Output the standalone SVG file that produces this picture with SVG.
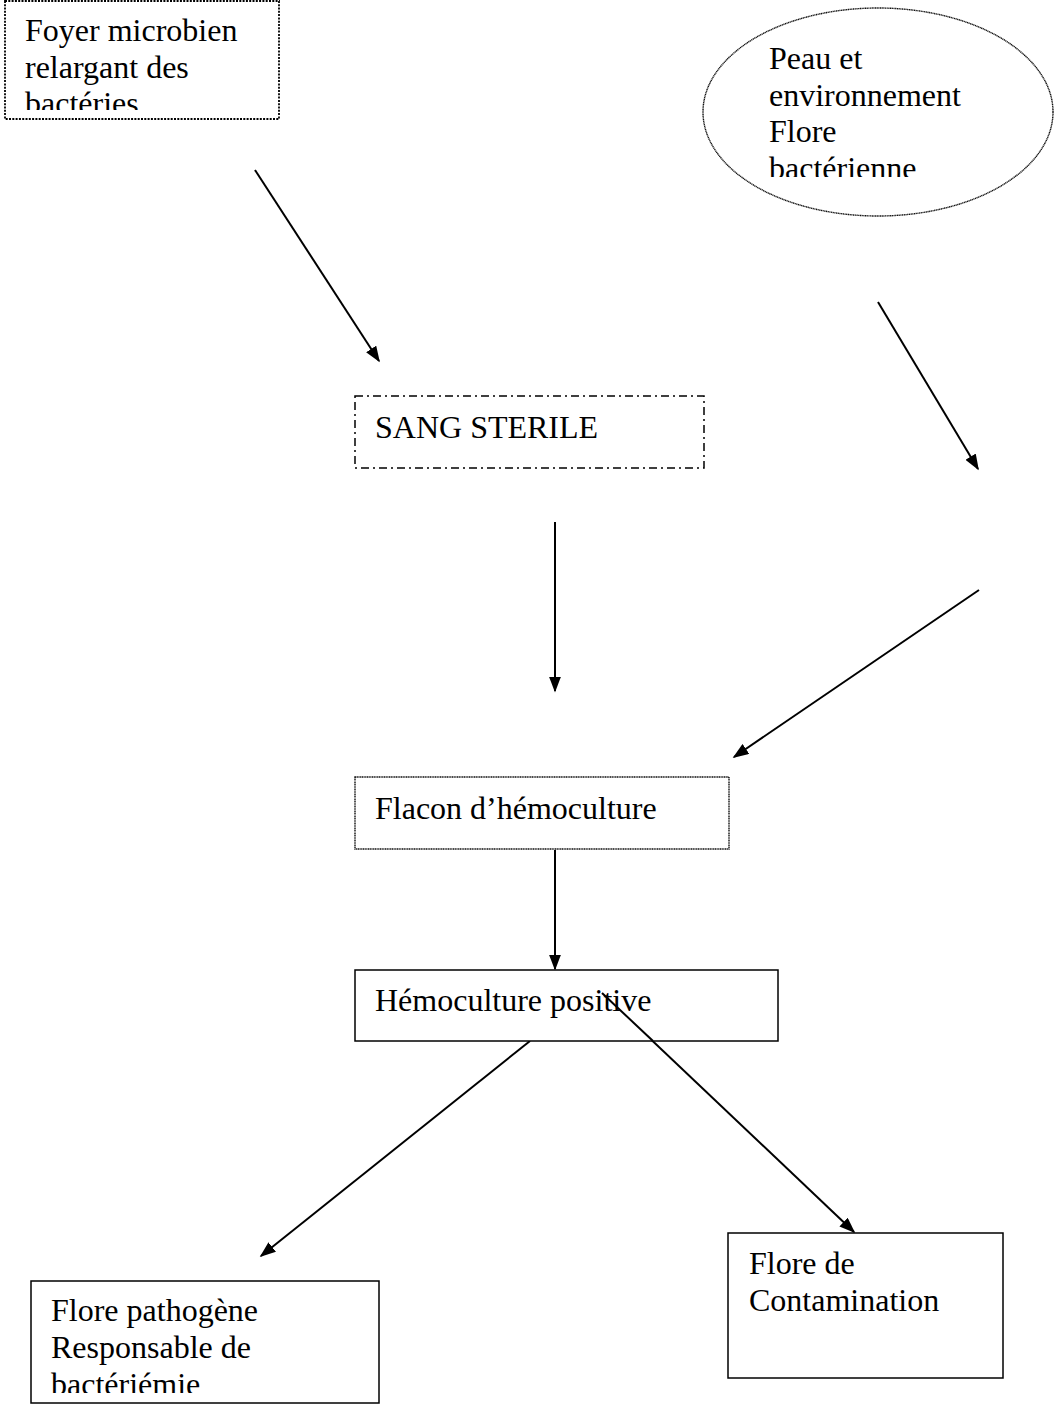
<svg xmlns="http://www.w3.org/2000/svg" width="1054" height="1405" viewBox="0 0 1054 1405">
<style>
text{font-family:"Liberation Serif","Times New Roman",serif;font-size:32px;fill:#000}
.solid{fill:#fff;stroke:#000;stroke-width:1.5}
.dotbox{fill:#fff;stroke:#000;stroke-width:1.8;stroke-dasharray:2 1.3}
.fine{fill:#fff;stroke:#111;stroke-width:1.4;stroke-dasharray:1.2 0.5}
.dashdot{fill:#fff;stroke:#000;stroke-width:1.5;stroke-dasharray:8 4 2 4}
.conn{stroke:#000;stroke-width:2;fill:none;marker-end:url(#ah)}
</style>
<defs>
<marker id="ah" viewBox="0 0 10 10" refX="9" refY="5" markerWidth="16" markerHeight="12" markerUnits="userSpaceOnUse" orient="auto" preserveAspectRatio="none">
<path d="M0,0 L10,5 L0,10 z" fill="#000"/>
</marker>
<clipPath id="c1"><rect x="5" y="0" width="275" height="110"/></clipPath>
<clipPath id="c2"><rect x="700" y="0" width="354" height="177"/></clipPath>
<clipPath id="c3"><rect x="31" y="1281" width="348" height="112"/></clipPath>
</defs>
<rect width="1054" height="1405" fill="#fff"/>
<g id="connectors">
<line class="conn" x1="255" y1="170" x2="379" y2="361"/>
<line class="conn" x1="878" y1="302" x2="978" y2="469"/>
<line class="conn" x1="555" y1="522" x2="555" y2="691"/>
<line class="conn" x1="979" y1="590" x2="734" y2="757"/>
<line class="conn" x1="555" y1="850" x2="555" y2="969"/>
<line class="conn" x1="530" y1="1041" x2="261" y2="1256"/>
<line class="conn" x1="602" y1="993" x2="854" y2="1232"/>
</g>
<g id="foyer">
<rect class="dotbox" x="5" y="1" width="274" height="118"/>
<g clip-path="url(#c1)">
<text x="25" y="41">Foyer microbien</text>
<text x="25" y="78">relargant des</text>
<text x="25" y="114">bactéries</text>
</g>
</g>
<g id="peau">
<ellipse class="fine" cx="878" cy="112" rx="175" ry="104"/>
<g clip-path="url(#c2)">
<text x="769" y="69">Peau et</text>
<text x="769" y="106">environnement</text>
<text x="769" y="142">Flore</text>
<text x="769" y="179">bactérienne</text>
</g>
</g>
<g id="sang">
<rect class="dashdot" x="355" y="396" width="349" height="72"/>
<text x="375" y="438">SANG STERILE</text>
</g>
<g id="flacon">
<rect class="fine" x="355" y="777" width="374" height="72"/>
<text x="375" y="819">Flacon d’hémoculture</text>
</g>
<g id="hemopos">
<rect class="solid" x="355" y="970" width="423" height="71"/>
<text x="375" y="1011">Hémoculture positive</text>
</g>
<line x1="602" y1="993" x2="653" y2="1041" stroke="#000" stroke-width="2"/>
<g id="pathogene">
<rect class="solid" x="31" y="1281" width="348" height="122"/>
<g clip-path="url(#c3)">
<text x="51" y="1321">Flore pathogène</text>
<text x="51" y="1358">Responsable de</text>
<text x="51" y="1395">bactériémie</text>
</g>
</g>
<g id="contamination">
<rect class="solid" x="728" y="1233" width="275" height="145"/>
<text x="749" y="1274">Flore de</text>
<text x="749" y="1311">Contamination</text>
</g>
</svg>
